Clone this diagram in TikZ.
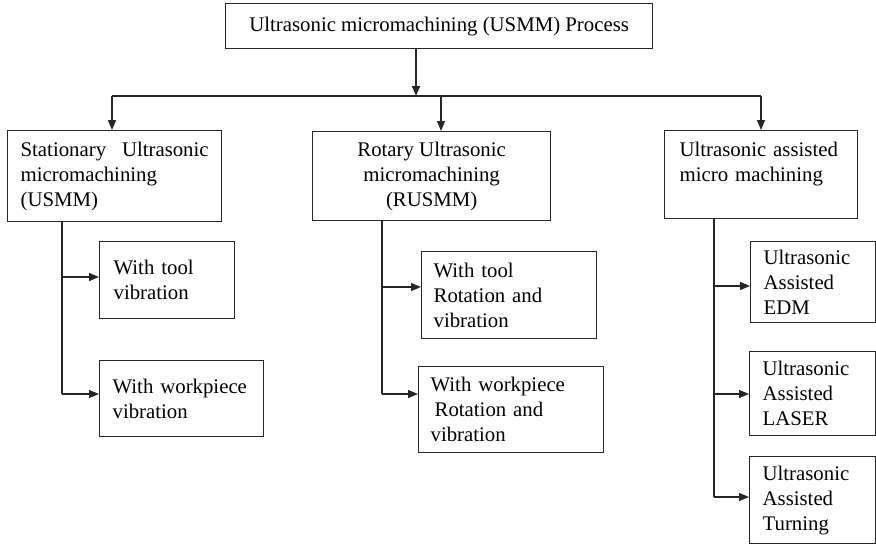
\documentclass[tikz,border=0pt]{standalone}
\usepackage{fontspec}
\setmainfont{Liberation Serif}
\usetikzlibrary{arrows.meta}
\begin{document}
\begin{tikzpicture}[x=1pt,y=-1pt,
  box/.style={draw=black!85, line width=1.3pt, anchor=north west, inner ysep=0pt,
    font=\fontsize{20.8pt}{25pt}\selectfont},
  lbox/.style={box, align=left},
  arr/.style={draw=black!85, line width=1.3pt, -{Triangle[length=10pt,width=8pt]}},
  con/.style={draw=black!85, line width=1.3pt}]
\useasboundingbox (0,0) rectangle (876,546);
% top
\node[box, align=center, minimum width=427pt, minimum height=45pt] (top) at (225,3)
  {Ultrasonic micromachining (USMM) Process};
% level 1
\node[lbox, inner xsep=13pt, text width=188pt, minimum height=91pt] (b1) at (7,130)
  {Stationary\hfill Ultrasonic\\micromachining\\(USMM)};
\node[box, align=center, minimum width=238pt, minimum height=89pt] (b2) at (312,131)
  {Rotary Ultrasonic\\micromachining\\(RUSMM)};
\node[lbox, inner xsep=15pt, text width=163pt, minimum height=88pt] (b3) at (664,130)
  {Ultrasonic assisted\\micro machining\\\mbox{}};
% level 2 left
\node[lbox, inner xsep=14pt, text width=107pt, minimum height=77pt] (l1) at (99,241)
  {With tool\\vibration};
\node[lbox, inner xsep=13pt, text width=138pt, minimum height=76pt] (l2) at (99,360)
  {With workpiece\\vibration};
% level 2 middle
\node[lbox, inner xsep=12pt, text width=151pt, minimum height=87pt] (m1) at (421,251)
  {With tool\\Rotation and\\vibration};
\node[lbox, inner xsep=12pt, text width=161pt, minimum height=86pt] (m2) at (418,366)
  {With workpiece\\\hspace*{4pt}Rotation and\\vibration};
% level 2 right
\node[lbox, inner xsep=13pt, text width=99pt, minimum height=81pt] (r1) at (750,241)
  {Ultrasonic\\Assisted\\EDM};
\node[lbox, inner xsep=13pt, text width=100pt, minimum height=84pt] (r2) at (749,351)
  {Ultrasonic\\Assisted\\LASER};
\node[lbox, inner xsep=13pt, text width=100pt, minimum height=87pt] (r3) at (749,456)
  {Ultrasonic\\Assisted\\Turning};
% connectors top
\coordinate (h0) at (416,96);
\coordinate (hl) at (112,96);
\coordinate (hm) at (441,96);
\coordinate (hr) at (761,96);
\draw[arr] (top.south -| h0) -- (h0);
\draw[con] (hl) -- (hr);
\draw[arr] (hl) -- (hl |- b1.north);
\draw[arr] (hm) -- (hm |- b2.north);
\draw[arr] (hr) -- (hr |- b3.north);
% left branch
\coordinate (la1) at (62,277);
\coordinate (la2) at (62,394);
\draw[con] (b1.south -| la1) -- (la2);
\draw[arr] (la1) -- (la1 -| l1.west);
\draw[arr] (la2) -- (la2 -| l2.west);
% middle branch
\coordinate (ma1) at (382,287);
\coordinate (ma2) at (382,394);
\draw[con] (b2.south -| ma1) -- (ma2);
\draw[arr] (ma1) -- (ma1 -| m1.west);
\draw[arr] (ma2) -- (ma2 -| m2.west);
% right branch
\coordinate (ra1) at (714,286);
\coordinate (ra2) at (714,394);
\coordinate (ra3) at (714,497);
\draw[con] (b3.south -| ra1) -- (ra3);
\draw[arr] (ra1) -- (ra1 -| r1.west);
\draw[arr] (ra2) -- (ra2 -| r2.west);
\draw[arr] (ra3) -- (ra3 -| r3.west);
\end{tikzpicture}
\end{document}
